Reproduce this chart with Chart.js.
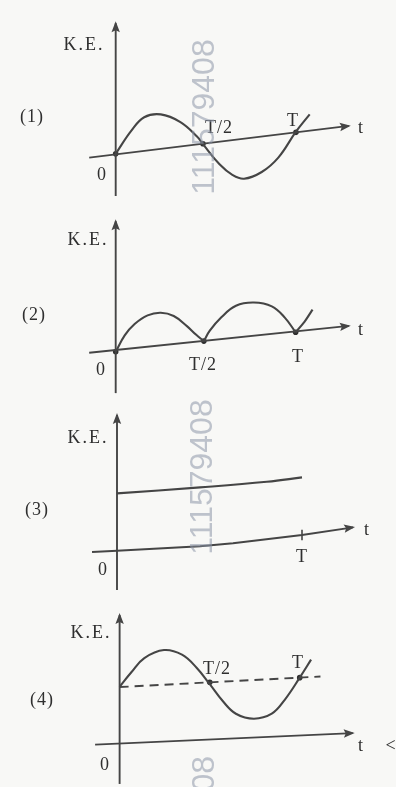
<!DOCTYPE html>
<html>
<head>
<meta charset="utf-8">
<script src="https://cdn.jsdelivr.net/npm/chart.js@4.4.1/dist/chart.umd.min.js"></script>
<style>
  body { margin: 0; background: #f8f8f6; }
  #wrap { position: relative; width: 396px; height: 787px; overflow: hidden; }
  canvas { position: absolute; left: 0; }
</style>
</head>
<body>
<div id="wrap">
  <canvas id="c1" width="396" height="200" style="top:0px"></canvas>
  <canvas id="c2" width="396" height="200" style="top:200px"></canvas>
  <canvas id="c3" width="396" height="190" style="top:400px"></canvas>
  <canvas id="c4" width="396" height="197" style="top:590px"></canvas>
</div>
<script>
// === data (t in units of T, K.E. in arbitrary units) ===
const yTitle = 'K.E.';
const xTitle = 't';
const panelNames = ['(1)', '(2)', '(3)', '(4)'];
const watermark = '111579408';

// (1) sine-like curve going below the t axis
const p1Ticks = ['0', 'T/2', 'T'];
const p1T  = [0, 0.087, 0.158, 0.25, 0.359, 0.451, 0.484, 0.576, 0.647, 0.712, 0.81, 0.902, 1.0, 1.076];
const p1KE = [0, 0.6, 0.95, 1.025, 0.825, 0.45, 0.25, -0.275, -0.55, -0.65, -0.475, -0.1, 0.575, 1.025];
const p1AxisT  = [-0.147, 1.293];
const p1AxisKE = [-0.1, 0.725];
const p1DotT  = [0, 0.484, 1.0];
const p1DotKE = [0, 0.26, 0.557];

// (2) two arches touching the axis at T/2 and T
const p2Ticks = ['0', 'T/2', 'T'];
const p2ArchAT  = [0, 0.05, 0.105, 0.177, 0.25, 0.322, 0.395, 0.445, 0.489];
const p2ArchAKE = [0, 0.43, 0.725, 0.95, 1.017, 0.933, 0.67, 0.45, 0.28];
const p2ArchBT  = [0.489, 0.522, 0.586, 0.667, 0.766, 0.866, 0.938, 0.998];
const p2ArchBKE = [0.28, 0.55, 0.9, 1.2, 1.283, 1.183, 0.892, 0.51];
const p2TailT  = [0.998, 1.047, 1.092];
const p2TailKE = [0.51, 0.78, 1.1];
const p2AxisT  = [-0.147, 1.293];
const p2AxisKE = [-0.025, 0.675];
const p2DotT  = [0, 0.489, 0.998];
const p2DotKE = [0, 0.28, 0.51];

// (3) constant K.E.
const p3Ticks = ['0', 'T'];
const p3T  = [0, 0.449, 0.81, 1.0];
const p3KE = [1.44, 1.59, 1.73, 1.84];
const p3AxisT  = [-0.135, 0, 0.449, 0.627, 1.0, 1.276];
const p3AxisKE = [-0.025, 0.008, 0.118, 0.193, 0.4, 0.592];
const p3TickT  = [1.0, 1.0];
const p3TickKE = [0.27, 0.53];

// (4) oscillation about a non-zero mean (dashed)
const p4Ticks = ['0', 'T/2', 'T'];
const p4T  = [0, 0.065, 0.137, 0.246, 0.346, 0.427, 0.5, 0.572, 0.645, 0.745, 0.844, 0.917, 0.999, 1.062];
const p4KE = [1.48, 1.86, 2.23, 2.44, 2.32, 1.98, 1.55, 1.11, 0.78, 0.65, 0.78, 1.15, 1.72, 2.19];
const p4MeanT  = [0, 1.114];
const p4MeanKE = [1.475, 1.75];
const p4AxisT  = [-0.136, 1.293];
const p4AxisKE = [-0.025, 0.275];
const p4DotT  = [0.5, 0.999];
const p4DotKE = [1.6, 1.72];

// === layout (pixels inside each canvas) ===
const INK = '#454545';
const W = 396;

const pts = (ts, ks) => ts.map((t, i) => ({ x: t, y: ks[i] }));

const line = (data, extra) => Object.assign({
  data, borderColor: INK, borderWidth: 2.1, pointRadius: 0, tension: 0.4, fill: false, clip: false
}, extra || {});

const dots = (data) => ({
  data, showLine: false, pointRadius: 2.8, pointBackgroundColor: '#2f2f2f', pointBorderWidth: 0, clip: false
});

const panels = [
  {
    id: 'c1', h: 200, ox: 114, oy: 156, pxT: 184, pxKE: 40, yAxis: [3.4, -1.1],
    datasets: [
      line(pts(p1AxisT, p1AxisKE), { tension: 0, borderWidth: 1.9, arrow: true }),
      line(pts(p1T, p1KE)),
      dots(pts(p1DotT, p1DotKE)),
    ],
    texts: [
      { s: yTitle, x: 84, y: 45, kind: 'title' },
      { s: panelNames[0], x: 32, y: 117 },
      { s: p1Ticks[0], x: 102, y: 175 },
      { s: p1Ticks[1], x: 219, y: 128 },
      { s: p1Ticks[2], x: 293, y: 121 },
      { s: xTitle, x: 361, y: 128 },
    ],
    mark: { x: 205, y: 117, align: 'center' },
  },
  {
    id: 'c2', h: 200, ox: 114, oy: 154, pxT: 184, pxKE: 40, yAxis: [3.4, -1.075],
    datasets: [
      line(pts(p2AxisT, p2AxisKE), { tension: 0, borderWidth: 1.9, arrow: true }),
      line(pts(p2ArchAT, p2ArchAKE)),
      line(pts(p2ArchBT, p2ArchBKE)),
      line(pts(p2TailT, p2TailKE), { tension: 0.2 }),
      dots(pts(p2DotT, p2DotKE)),
    ],
    texts: [
      { s: yTitle, x: 88, y: 40, kind: 'title' },
      { s: panelNames[1], x: 34, y: 115 },
      { s: p2Ticks[0], x: 101, y: 170 },
      { s: p2Ticks[1], x: 203, y: 165 },
      { s: p2Ticks[2], x: 298, y: 157 },
      { s: xTitle, x: 361, y: 130 },
    ],
  },
  {
    id: 'c3', h: 190, ox: 117, oy: 151, pxT: 185, pxKE: 40, yAxis: [3.4, -1.0],
    datasets: [
      line(pts(p3AxisT, p3AxisKE), { tension: 0, borderWidth: 1.9, arrow: true }),
      line(pts(p3TickT, p3TickKE), { tension: 0, borderWidth: 1.6 }),
      line(pts(p3T, p3KE)),
    ],
    texts: [
      { s: yTitle, x: 88, y: 38, kind: 'title' },
      { s: panelNames[2], x: 37, y: 110 },
      { s: p3Ticks[0], x: 103, y: 170 },
      { s: p3Ticks[1], x: 302, y: 157 },
      { s: xTitle, x: 367, y: 130 },
    ],
    mark: { x: 203, y: 77, align: 'center' },
  },
  {
    id: 'c4', h: 197, ox: 118, oy: 156, pxT: 184, pxKE: 40, yAxis: [3.35, -1.05],
    datasets: [
      line(pts(p4AxisT, p4AxisKE), { tension: 0, borderWidth: 1.9, arrow: true }),
      line(pts(p4MeanT, p4MeanKE), { tension: 0, borderWidth: 1.9, borderDash: [9, 6] }),
      line(pts(p4T, p4KE)),
      dots(pts(p4DotT, p4DotKE)),
    ],
    texts: [
      { s: yTitle, x: 91, y: 43, kind: 'title' },
      { s: panelNames[3], x: 42, y: 110 },
      { s: p4Ticks[0], x: 105, y: 175 },
      { s: p4Ticks[1], x: 217, y: 79 },
      { s: p4Ticks[2], x: 298, y: 73 },
      { s: xTitle, x: 361, y: 156 },
      { s: '<', x: 391, y: 156 },
    ],
    mark: { x: 205, y: 166, align: 'right' },
  },
];

// arrowheads on the axis lines
const arrowPlugin = {
  id: 'arrows',
  afterDatasetsDraw(chart) {
    const ctx = chart.ctx;
    chart.data.datasets.forEach((ds, i) => {
      if (!ds.arrow) return;
      const el = chart.getDatasetMeta(i).data;
      const a = el[el.length - 2], b = el[el.length - 1];
      const ang = Math.atan2(b.y - a.y, b.x - a.x);
      ctx.save();
      ctx.translate(b.x, b.y);
      ctx.rotate(ang);
      ctx.fillStyle = INK;
      ctx.beginPath();
      ctx.moveTo(2, 0);
      ctx.lineTo(-9, -4.2);
      ctx.lineTo(-7, 0);
      ctx.lineTo(-9, 4.2);
      ctx.closePath();
      ctx.fill();
      ctx.restore();
    });
  }
};

// labels + scan watermark
const textPlugin = {
  id: 'texts',
  afterDraw(chart) {
    const p = chart.options.plugins.texts;
    const ctx = chart.ctx;
    ctx.save();
    ctx.fillStyle = '#2f2f2f';
    ctx.textAlign = 'center';
    ctx.textBaseline = 'middle';
    p.texts.forEach(t => {
      ctx.font = '18px "Liberation Serif", serif';
      ctx.letterSpacing = t.kind === 'title' ? '2px' : '1px';
      ctx.fillText(t.s, t.x, t.y);
    });
    if (p.mark) {
      ctx.letterSpacing = '0px';
      ctx.translate(p.mark.x, p.mark.y);
      ctx.rotate(-Math.PI / 2);
      ctx.font = '32px "Liberation Sans", sans-serif';
      ctx.fillStyle = 'rgba(140,150,168,0.55)';
      ctx.textAlign = p.mark.align;
      ctx.fillText(watermark, 0, 0);
    }
    ctx.restore();
  }
};

panels.forEach(p => {
  const xMin = -p.ox / p.pxT, xMax = (W - p.ox) / p.pxT;
  const yMax = p.oy / p.pxKE, yMin = (p.oy - p.h) / p.pxKE;
  // vertical K.E. axis
  const yAxisLine = line([{ x: 0, y: p.yAxis[1] }, { x: 0, y: p.yAxis[0] }], { tension: 0, borderWidth: 1.9, arrow: true });
  new Chart(document.getElementById(p.id), {
    type: 'line',
    data: { datasets: [yAxisLine].concat(p.datasets) },
    options: {
      responsive: false,
      animation: false,
      events: [],
      layout: { padding: 0 },
      plugins: {
        legend: { display: false },
        tooltip: { enabled: false },
        texts: { texts: p.texts, mark: p.mark },
      },
      scales: {
        x: { type: 'linear', display: false, min: xMin, max: xMax },
        y: { type: 'linear', display: false, min: yMin, max: yMax },
      },
    },
    plugins: [arrowPlugin, textPlugin],
  });
});
</script>
</body>
</html>
